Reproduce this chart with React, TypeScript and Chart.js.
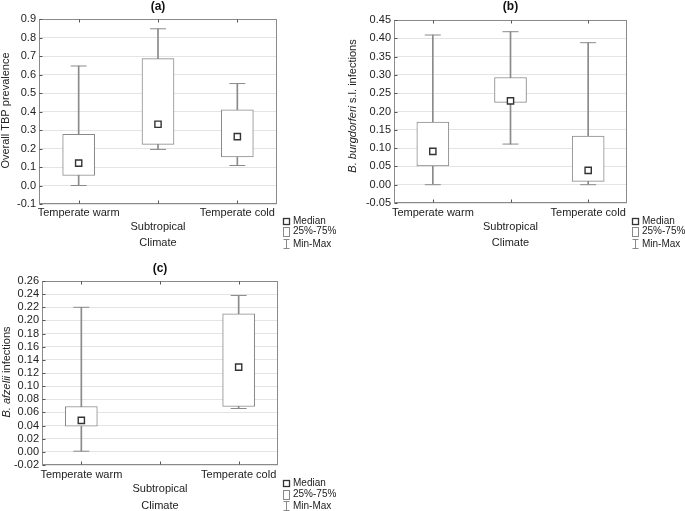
import React, { useEffect, useRef } from "react";
import { Chart, registerables } from "chart.js";

Chart.register(...registerables);

const FONT = "'Liberation Sans', Arial, Helvetica, sans-serif";
Chart.defaults.font.family = FONT;

// ---------- data ----------
const categories = ["Temperate warm", "Subtropical", "Temperate cold"];

// (a) Overall TBP prevalence
const aMin = [0.0, 0.195, 0.108];
const aQ1 = [0.054, 0.222, 0.155];
const aMedian = [0.121, 0.331, 0.264];
const aQ3 = [0.277, 0.686, 0.409];
const aMax = [0.646, 0.847, 0.551];

// (b) B. burgdorferi s.l. infections
const bMin = [0.0, 0.111, 0.0];
const bQ1 = [0.051, 0.225, 0.009];
const bMedian = [0.091, 0.229, 0.039];
const bQ3 = [0.171, 0.293, 0.133];
const bMax = [0.409, 0.418, 0.388];

// (c) B. afzelii infections
const cMin = [0.001, null, 0.066];
const cQ1 = [0.039, null, 0.069];
const cMedian = [0.048, null, 0.129];
const cQ3 = [0.069, null, 0.21];
const cMax = [0.22, null, 0.238];

// y axis ranges
const aAxis = { min: -0.1, max: 0.9, step: 0.1, decimals: 1 };
const bAxis = { min: -0.05, max: 0.45, step: 0.05, decimals: 2 };
const cAxis = { min: -0.02, max: 0.26, step: 0.02, decimals: 2 };

const panelTitles = ["(a)", "(b)", "(c)"];
const xTitle = "Climate";
const legendLabels = ["Median", "25%-75%", "Min-Max"];

type Seg = { text: string; italic: boolean };
const aYTitle: Seg[] = [{ text: "Overall TBP prevalence", italic: false }];
const bYTitle: Seg[] = [
  { text: "B. burgdorferi", italic: true },
  { text: " s.l. infections", italic: false },
];
const cYTitle: Seg[] = [
  { text: "B. afzelii", italic: true },
  { text: " infections", italic: false },
];

// ---------- styles / layout ----------
const GREY = "#8a8a8a";
const DARK = "#333333";
const TEXT = "#222222";

type Val = number | null;
interface Spec {
  title: string;
  yTitle: Seg[];
  min: Val[];
  q1: Val[];
  med: Val[];
  q3: Val[];
  max: Val[];
  axis: { min: number; max: number; step: number; decimals: number };
  box: { x: number; y: number; w: number; h: number };
  yWidth: number;
  padRight: number;
  titlePadTop: number;
  titlePadBottom: number;
  xHeight: number;
  xTickPad: number;
  xTitlePad: number;
  yTitleX: number;
  yTitleY: number;
  legendDx: number;
  legendRows: number[];
}

const specs: Spec[] = [
  {
    title: panelTitles[0],
    yTitle: aYTitle,
    min: aMin, q1: aQ1, med: aMedian, q3: aQ3, max: aMax,
    axis: aAxis,
    box: { x: 0, y: 0, w: 342, h: 255 },
    yWidth: 39, padRight: 65,
    titlePadTop: 0.5, titlePadBottom: 6.5,
    xHeight: 51, xTickPad: 2.1, xTitlePad: 7,
    yTitleX: 6, yTitleY: 110.5,
    legendDx: 8.5, legendRows: [16.8, 27.3, 40.3],
  },
  {
    title: panelTitles[1],
    yTitle: bYTitle,
    min: bMin, q1: bQ1, med: bMedian, q3: bQ3, max: bMax,
    axis: bAxis,
    box: { x: 342, y: 0, w: 343, h: 255 },
    yWidth: 52, padRight: 58,
    titlePadTop: 0.5, titlePadBottom: 7.5,
    xHeight: 52, xTickPad: 3.4, xTitlePad: 6.75,
    yTitleX: 11.3, yTitleY: 106,
    legendDx: 8, legendRows: [17.5, 28, 41],
  },
  {
    title: panelTitles[2],
    yTitle: cYTitle,
    min: cMin, q1: cQ1, med: cMedian, q3: cQ3, max: cMax,
    axis: cAxis,
    box: { x: 0, y: 250, w: 342, h: 261 },
    yWidth: 42, padRight: 64,
    titlePadTop: 12.3, titlePadBottom: 6.7,
    xHeight: 46, xTickPad: 3.1, xTitlePad: 0,
    yTitleX: 7.3, yTitleY: 122,
    legendDx: 8, legendRows: [17.6, 28.8, 40.8],
  },
];

function panelPlugin(spec: Spec) {
  return {
    id: "panelDecor",
    beforeDatasetsDraw(chart: any) {
      const ctx = chart.ctx as CanvasRenderingContext2D;
      const { left, right, top, bottom } = chart.chartArea;
      const L = Math.round(left) + 0.5;
      const R = Math.round(right) - 0.5;
      const T = Math.round(top) + 0.5;
      const B = Math.round(bottom) - 0.5;
      ctx.save();
      ctx.strokeStyle = GREY;
      ctx.lineWidth = 1;
      ctx.strokeRect(L, T, R - L, B - T);
      // inward tick marks
      ctx.strokeStyle = "#555";
      ctx.beginPath();
      const yScale = chart.scales.y;
      yScale.ticks.forEach((t: any) => {
        const py = Math.round(yScale.getPixelForValue(t.value)) + 0.5;
        ctx.moveTo(L, py);
        ctx.lineTo(L + 3, py);
      });
      const xScale = chart.scales.x;
      categories.forEach((_, i) => {
        const px = Math.round(xScale.getPixelForValue(i)) + 0.5;
        ctx.moveTo(px, T);
        ctx.lineTo(px, T + 3);
        ctx.moveTo(px, B);
        ctx.lineTo(px, B - 3);
      });
      ctx.stroke();
      ctx.restore();
    },
    afterDraw(chart: any) {
      const ctx = chart.ctx as CanvasRenderingContext2D;
      const { right, bottom } = chart.chartArea;
      ctx.save();
      // y axis title with mixed italic segments
      ctx.translate(spec.yTitleX, spec.yTitleY);
      ctx.rotate(-Math.PI / 2);
      ctx.textBaseline = "middle";
      ctx.textAlign = "left";
      ctx.fillStyle = TEXT;
      const fonts = spec.yTitle.map((s) => `${s.italic ? "italic " : ""}11px ${FONT}`);
      const widths = spec.yTitle.map((s, i) => {
        ctx.font = fonts[i];
        return ctx.measureText(s.text).width;
      });
      const total = widths.reduce((a, b) => a + b, 0);
      let x = -total / 2;
      spec.yTitle.forEach((s, i) => {
        ctx.font = fonts[i];
        ctx.fillText(s.text, x, 0);
        x += widths[i];
      });
      ctx.restore();

      // legend
      ctx.save();
      const ix = Math.round(right + spec.legendDx) + 0.5;
      const ys = spec.legendRows.map((d) => Math.round(bottom + d));
      // Median square
      ctx.lineWidth = 1.3;
      ctx.strokeStyle = DARK;
      ctx.fillStyle = "#fff";
      ctx.fillRect(ix - 3, ys[0] - 3, 6, 6);
      ctx.strokeRect(ix - 3, ys[0] - 3 + 0.5, 6, 6);
      // 25%-75% box
      ctx.lineWidth = 1;
      ctx.strokeStyle = GREY;
      ctx.strokeRect(ix - 3, ys[1] - 4 + 0.5, 6, 9);
      // Min-Max
      ctx.beginPath();
      ctx.moveTo(ix, ys[2] - 4.5);
      ctx.lineTo(ix, ys[2] + 4.5);
      ctx.moveTo(ix - 3, ys[2] - 4.5);
      ctx.lineTo(ix + 3, ys[2] - 4.5);
      ctx.moveTo(ix - 3, ys[2] + 4.5);
      ctx.lineTo(ix + 3, ys[2] + 4.5);
      ctx.stroke();
      ctx.fillStyle = TEXT;
      ctx.font = `10px ${FONT}`;
      ctx.textBaseline = "middle";
      ctx.textAlign = "left";
      legendLabels.forEach((lab, i) => {
        ctx.fillText(lab, ix + 6.5, ys[i] + 0.5);
      });
      ctx.restore();
    },
  };
}

function buildConfig(spec: Spec): any {
  const pair = (lo: Val[], hi: Val[]) =>
    categories.map((_, i) => (lo[i] == null || hi[i] == null ? null : [lo[i], hi[i]]));
  return {
    type: "bar",
    data: {
      labels: categories,
      datasets: [
        {
          type: "line",
          label: "Median",
          data: spec.med,
          showLine: false,
          pointStyle: "rect",
          pointRadius: 4.4,
          pointHoverRadius: 4.4,
          pointBackgroundColor: "#ffffff",
          pointBorderColor: DARK,
          pointBorderWidth: 1.4,
          order: 1,
        },
        {
          type: "bar",
          label: "25%-75%",
          data: pair(spec.q1, spec.q3),
          backgroundColor: "#ffffff",
          borderColor: GREY,
          borderWidth: 1,
          borderSkipped: false,
          barThickness: 32,
          grouped: false,
          order: 2,
        },
        {
          type: "line",
          label: "Max",
          data: spec.max,
          showLine: false,
          pointStyle: "line",
          pointRadius: 8,
          pointHoverRadius: 8,
          pointBorderColor: GREY,
          pointBorderWidth: 1,
          order: 3,
        },
        {
          type: "line",
          label: "Min",
          data: spec.min,
          showLine: false,
          pointStyle: "line",
          pointRadius: 8,
          pointHoverRadius: 8,
          pointBorderColor: GREY,
          pointBorderWidth: 1,
          order: 3,
        },
        {
          type: "bar",
          label: "Min-Max",
          data: pair(spec.min, spec.max),
          backgroundColor: GREY,
          borderWidth: 0,
          barThickness: 1,
          grouped: false,
          order: 4,
        },
      ],
    },
    options: {
      responsive: false,
      animation: false,
      devicePixelRatio: 1,
      events: [],
      layout: { padding: { left: 0, right: spec.padRight, top: 0, bottom: 0 } },
      plugins: {
        legend: { display: false },
        tooltip: { enabled: false },
        title: {
          display: true,
          text: spec.title,
          fullSize: false,
          color: "#111",
          font: { size: 12, weight: "bold", lineHeight: 1 },
          padding: { top: spec.titlePadTop, bottom: spec.titlePadBottom },
        },
      },
      scales: {
        x: {
          type: "category",
          offset: true,
          grid: { display: false, drawTicks: false, tickLength: 0 },
          border: { display: false },
          ticks: {
            autoSkip: false,
            maxRotation: 0,
            minRotation: 0,
            padding: spec.xTickPad,
            color: TEXT,
            font: { size: 11, lineHeight: 1.25 },
            callback: (_v: any, i: number) => (i % 2 === 1 ? ["", categories[i]] : categories[i]),
          },
          title: {
            display: true,
            text: xTitle,
            color: TEXT,
            font: { size: 11, lineHeight: 0.9 },
            padding: { top: 0, bottom: spec.xTitlePad },
          },
          afterFit: (s: any) => {
            s.height = spec.xHeight;
          },
        },
        y: {
          type: "linear",
          min: spec.axis.min,
          max: spec.axis.max,
          grid: { color: "#e4e4e4", drawTicks: false, tickLength: 0 },
          border: { display: false },
          ticks: {
            stepSize: spec.axis.step,
            autoSkip: false,
            padding: 3,
            color: TEXT,
            font: { size: 11 },
            callback: (v: any) => {
              const n = Math.abs(Number(v)) < 1e-9 ? 0 : Number(v);
              return n.toFixed(spec.axis.decimals);
            },
          },
          afterFit: (s: any) => {
            s.width = spec.yWidth;
          },
        },
      },
    },
    plugins: [panelPlugin(spec)],
  };
}

function Panel({ spec }: { spec: Spec }) {
  const ref = useRef<HTMLCanvasElement | null>(null);
  useEffect(() => {
    const canvas = ref.current;
    if (!canvas) return;
    const chart = new Chart(canvas, buildConfig(spec));
    return () => chart.destroy();
  }, [spec]);
  return (
    <canvas
      ref={ref}
      width={spec.box.w}
      height={spec.box.h}
      style={{
        position: "absolute",
        left: spec.box.x,
        top: spec.box.y,
        width: spec.box.w,
        height: spec.box.h,
      }}
    />
  );
}

export default function App() {
  return (
    <div
      style={{
        position: "absolute",
        left: 0,
        top: 0,
        width: 685,
        height: 511,
        overflow: "hidden",
        background: "#ffffff",
      }}
    >
      {specs.map((s, i) => (
        <Panel key={i} spec={s} />
      ))}
    </div>
  );
}
